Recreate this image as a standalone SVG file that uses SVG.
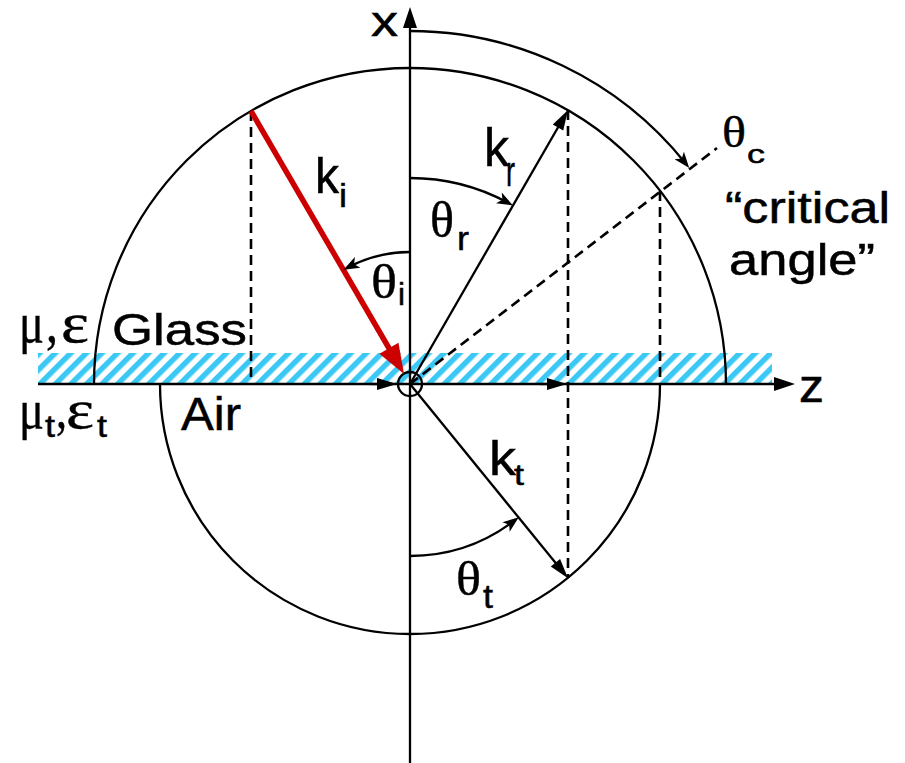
<svg xmlns="http://www.w3.org/2000/svg" width="905" height="763" viewBox="0 0 905 763">
<style>
.ln{stroke:#000;stroke-width:2.3;fill:none}
.dash{stroke:#000;stroke-width:2.6;fill:none;stroke-dasharray:10 6}
.lat{font-family:"Liberation Sans",Arial,sans-serif;fill:#000;stroke:#000;stroke-width:0.5}
.grk{font-family:"Liberation Serif","Times New Roman",serif;fill:#000;stroke:#000;stroke-width:0.4}
</style>
<defs>
<pattern id="hatch" patternUnits="userSpaceOnUse" width="11" height="11" patternTransform="rotate(45)">
<rect width="11" height="11" fill="#fff"/><rect width="5.5" height="11" fill="#3cc8f5"/>
</pattern>
<marker id="axh" markerUnits="userSpaceOnUse" markerWidth="22" markerHeight="16" refX="11" refY="7" orient="auto" overflow="visible"><path d="M0,0 L21,7 L0,14 z" fill="#000"/></marker>
<marker id="sh" markerUnits="userSpaceOnUse" markerWidth="22" markerHeight="14" refX="12" refY="6" orient="auto" overflow="visible"><path d="M0,0 L20,6 L0,12 z" fill="#000"/></marker>
<marker id="arc" markerUnits="userSpaceOnUse" markerWidth="18" markerHeight="14" refX="10" refY="6" orient="auto" overflow="visible"><path d="M0,0 L16,6 L0,12 L4,6 z" fill="#000"/></marker>
<marker id="red" markerUnits="userSpaceOnUse" markerWidth="32" markerHeight="24" refX="16" refY="11" orient="auto" overflow="visible"><path d="M0,0 L30,11 L0,22 z" fill="#cc0000"/></marker>
</defs>
<rect width="905" height="763" fill="#fff"/>
<g id="interface">
<rect x="38" y="353" width="734" height="31" fill="url(#hatch)"/>
</g>
<g id="connectors">
<path class="ln" d="M94,384 A316,316 0 0 1 726,384"/>
<path class="ln" d="M160,384 A250,250 0 0 0 660,384"/>
<line class="dash" x1="251" y1="111" x2="251" y2="384"/>
<line class="dash" x1="568" y1="110" x2="568" y2="578"/>
<line class="dash" x1="660" y1="191" x2="660" y2="384"/>
<line class="dash" x1="410" y1="384" x2="717" y2="148"/>
<line class="ln" x1="410" y1="763" x2="410" y2="17" marker-end="url(#axh)"/>
<line class="ln" x1="38" y1="384" x2="785" y2="384" marker-end="url(#axh)"/>
<line class="ln" x1="370" y1="384" x2="389" y2="384" marker-end="url(#sh)"/>
<line class="ln" x1="540" y1="384" x2="559" y2="384" marker-end="url(#sh)"/>
<circle class="ln" cx="410" cy="384" r="12"/>
<line x1="251" y1="111" x2="397" y2="362" stroke="#cc0000" stroke-width="5.5" marker-end="url(#red)"/>
<line class="ln" x1="410" y1="384" x2="564" y2="117" marker-end="url(#sh)"/>
<line class="ln" x1="410" y1="384" x2="563" y2="572" marker-end="url(#sh)"/>
<path class="ln" d="M410,31 A353,353 0 0 1 685.5,163.3" marker-end="url(#arc)"/>
<path class="ln" d="M410,178 A206,206 0 0 1 507.7,202.6" marker-end="url(#arc)"/>
<path class="ln" d="M410,252 A132,132 0 0 0 348.8,267" marker-end="url(#arc)"/>
<path class="ln" d="M410,556 A172,172 0 0 0 514,521" marker-end="url(#arc)"/>
</g>
<g id="labels">
<text class="lat" x="371" y="36" font-size="42" textLength="27" lengthAdjust="spacingAndGlyphs">x</text>
<text class="lat" x="799" y="402" font-size="46" textLength="25" lengthAdjust="spacingAndGlyphs">z</text>
<text class="lat" x="112" y="345" font-size="44" textLength="135" lengthAdjust="spacingAndGlyphs">Glass</text>
<text class="lat" x="181" y="430" font-size="46" textLength="60" lengthAdjust="spacingAndGlyphs">Air</text>
<text class="lat" x="725" y="223" font-size="44" textLength="165" lengthAdjust="spacingAndGlyphs">“critical</text>
<text class="lat" x="729" y="275" font-size="44" textLength="146" lengthAdjust="spacingAndGlyphs">angle”</text>
<text class="lat" x="315" y="193" font-size="50" textLength="24" lengthAdjust="spacingAndGlyphs">k</text>
<text class="lat" x="339" y="207" font-size="34" textLength="8" lengthAdjust="spacingAndGlyphs">i</text>
<text class="lat" x="484" y="166" font-size="54" textLength="25" lengthAdjust="spacingAndGlyphs">k</text>
<text class="lat" x="506" y="186" font-size="42" textLength="9" lengthAdjust="spacingAndGlyphs">r</text>
<text class="lat" x="489" y="475" font-size="49" textLength="27" lengthAdjust="spacingAndGlyphs">k</text>
<text class="lat" x="514" y="485" font-size="30" textLength="10" lengthAdjust="spacingAndGlyphs">t</text>
<text class="grk" x="430" y="237" font-size="50" textLength="24" lengthAdjust="spacingAndGlyphs">θ</text>
<text class="lat" x="457" y="250" font-size="34" textLength="12" lengthAdjust="spacingAndGlyphs">r</text>
<text class="grk" x="371" y="298" font-size="48" textLength="26" lengthAdjust="spacingAndGlyphs">θ</text>
<text class="lat" x="398" y="305" font-size="32" textLength="7" lengthAdjust="spacingAndGlyphs">i</text>
<text class="grk" x="456" y="595" font-size="48" textLength="25" lengthAdjust="spacingAndGlyphs">θ</text>
<text class="lat" x="483" y="608" font-size="34" textLength="10" lengthAdjust="spacingAndGlyphs">t</text>
<text class="grk" x="722" y="147" font-size="44" textLength="24" lengthAdjust="spacingAndGlyphs">θ</text>
<text class="lat" x="747" y="163" font-size="26" textLength="18" lengthAdjust="spacingAndGlyphs">c</text>
<text class="grk" x="19" y="342" font-size="58" textLength="25" lengthAdjust="spacingAndGlyphs">μ</text>
<text class="grk" x="46" y="342" font-size="58" textLength="12" lengthAdjust="spacingAndGlyphs">,</text>
<text class="grk" x="61" y="342" font-size="58" textLength="28" lengthAdjust="spacingAndGlyphs">ε</text>
<text class="grk" x="19" y="428" font-size="54" textLength="25" lengthAdjust="spacingAndGlyphs">μ</text>
<text class="lat" x="45" y="437" font-size="32" textLength="10" lengthAdjust="spacingAndGlyphs">t</text>
<text class="grk" x="56" y="428" font-size="54" textLength="11" lengthAdjust="spacingAndGlyphs">,</text>
<text class="grk" x="66" y="428" font-size="54" textLength="28" lengthAdjust="spacingAndGlyphs">ε</text>
<text class="lat" x="97" y="437" font-size="32" textLength="10" lengthAdjust="spacingAndGlyphs">t</text>
</g>
</svg>
